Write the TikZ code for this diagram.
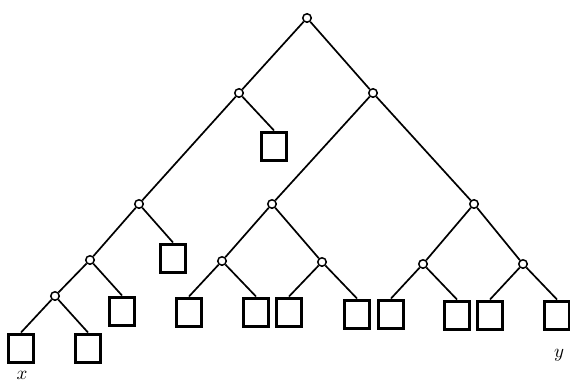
\documentclass[tikz,border=0pt]{standalone}
\usepackage{graphicx}
\begin{document}
\begin{tikzpicture}[x=1pt,y=-1pt,
  inner/.style={circle,draw,line width=1.5pt,minimum size=8.5pt,inner sep=0pt,fill=white},
  leaf/.style={rectangle,draw,line width=3pt,minimum width=25pt,minimum height=28pt,inner sep=0pt,fill=white},
  edge/.style={line width=1.7pt},
  lab/.style={inner sep=0pt}]
\useasboundingbox (0,0) rectangle (570,383);
% internal nodes
\node[inner] (r) at (307,18) {};
\node[inner] (a) at (239,93) {};
\node[inner] (b) at (373,93) {};
\node[inner] (c) at (139,204) {};
\node[inner] (d) at (272,204) {};
\node[inner] (e) at (474,204) {};
\node[inner] (f) at (90,260) {};
\node[inner] (g) at (222,261) {};
\node[inner] (h) at (322,262) {};
\node[inner] (i) at (423,264) {};
\node[inner] (j) at (523,264) {};
\node[inner] (k) at (55,296) {};
% leaves
\node[leaf] (l1) at (274,146) {};
\node[leaf] (l2) at (173,258) {};
\node[leaf] (l3) at (122,311) {};
\node[leaf] (l4) at (21,348) {};
\node[leaf] (l5) at (88,348) {};
\node[leaf] (l6) at (189,312) {};
\node[leaf] (l7) at (256,312) {};
\node[leaf] (l8) at (289,312) {};
\node[leaf] (l9) at (357,314) {};
\node[leaf] (l10) at (391,314) {};
\node[leaf] (l11) at (457,315) {};
\node[leaf] (l12) at (490,315) {};
\node[leaf] (l13) at (557,315) {};
% edges
\draw[edge] (r) -- (a);
\draw[edge] (r) -- (b);
\draw[edge] (a) -- (c);
\draw[edge] (a) -- (l1.north);
\draw[edge] (b) -- (d);
\draw[edge] (b) -- (e);
\draw[edge] (c) -- (f);
\draw[edge] (c) -- (l2.north);
\draw[edge] (f) -- (k);
\draw[edge] (f) -- (l3.north);
\draw[edge] (k) -- (l4.north);
\draw[edge] (k) -- (l5.north);
\draw[edge] (d) -- (g);
\draw[edge] (d) -- (h);
\draw[edge] (g) -- (l6.north);
\draw[edge] (g) -- (l7.north);
\draw[edge] (h) -- (l8.north);
\draw[edge] (h) -- (l9.north);
\draw[edge] (e) -- (i);
\draw[edge] (e) -- (j);
\draw[edge] (i) -- (l10.north);
\draw[edge] (i) -- (l11.north);
\draw[edge] (j) -- (l12.north);
\draw[edge] (j) -- (l13.north);
% labels
\node[lab,anchor=base] (x) at (22,379) {\scalebox{1.9}{$x$}};
\node[lab,anchor=base] (y) at (559,357) {\scalebox{1.9}{$y$}};
\end{tikzpicture}
\end{document}
